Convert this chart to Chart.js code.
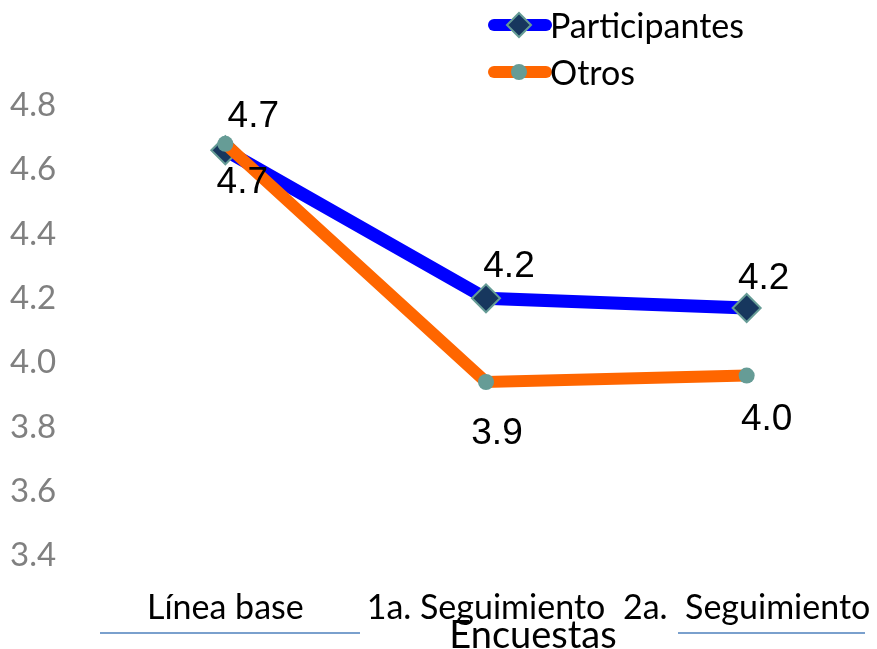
<!DOCTYPE html>
<html>
<head>
<meta charset="utf-8">
<script src="https://cdn.jsdelivr.net/npm/chart.js@4/dist/chart.umd.min.js"></script>
<style>
  html,body{margin:0;padding:0;background:#fff;overflow:hidden;}
  #wrap{position:relative;width:877px;height:649px;}
</style>
</head>
<body>
<div id="wrap"><canvas id="chart"></canvas></div>
<script>
// survey rounds and mean scores
const rounds = ['Línea base', '1a. Seguimiento', '2a.  Seguimiento'];
const participantes = [4.66, 4.20, 4.17];
const otros = [4.68, 3.94, 3.96];
const yTicks = [3.4, 3.6, 3.8, 4.0, 4.2, 4.4, 4.6, 4.8];
const xTitle = 'Encuestas';

const colors = {
  blue:'#0000FF', orange:'#FF6600', navy:'#17375E', teal:'#669C96', tick:'#808080', rule:'#4F81BD'
};
const FONT = 'Lato, "Open Sans", sans-serif';

// where the value labels sit around each point (dx, dy in px)
const labelOffsets = {
  0: [[17, 33], [23, -32], [17, -29]],
  1: [[28, -27], [11, 52], [20, 44]]
};

// value labels next to the points
const valueLabels = {
  id:'valueLabels',
  afterDatasetsDraw(chart){
    const ctx = chart.ctx;
    ctx.save();
    ctx.font = '37px "Liberation Sans", Arial, sans-serif';
    ctx.fillStyle = '#000';
    ctx.textAlign = 'center';
    ctx.textBaseline = 'middle';
    chart.data.datasets.forEach((ds, i) => {
      const meta = chart.getDatasetMeta(i);
      meta.data.forEach((pt, j) => {
        const off = labelOffsets[i][j];
        ctx.fillText(ds.data[j].toFixed(1), pt.x + off[0], pt.y + off[1]);
      });
    });
    ctx.restore();
  }
};

// legend drawn as line + marker, stacked top right
const lineLegend = {
  id:'lineLegend',
  afterDraw(chart){
    const ctx = chart.ctx;
    ctx.save();
    chart.data.datasets.forEach((ds, i) => {
      const y = 25 + i * 47;
      ctx.lineCap = 'round';
      ctx.strokeStyle = ds.borderColor;
      ctx.lineWidth = 12;
      ctx.beginPath(); ctx.moveTo(494, y); ctx.lineTo(546, y); ctx.stroke();
      ctx.fillStyle = ds.pointBackgroundColor;
      ctx.strokeStyle = ds.pointBorderColor;
      ctx.lineWidth = 2;
      if (ds.pointStyle === 'rectRot') {
        ctx.beginPath();
        ctx.moveTo(519, y - 12); ctx.lineTo(531, y); ctx.lineTo(519, y + 12); ctx.lineTo(507, y);
        ctx.closePath(); ctx.fill(); ctx.stroke();
      } else {
        ctx.beginPath(); ctx.arc(519, y, 8, 0, Math.PI * 2); ctx.fill();
      }
      ctx.fillStyle = '#000';
      ctx.font = '34px ' + FONT;
      ctx.textBaseline = 'middle';
      ctx.textAlign = 'left';
      ctx.fillText(ds.label, 550, y + 2);
    });
    ctx.restore();
  }
};

// axis title with thin rules either side
const axisTitle = {
  id:'axisTitle',
  afterDraw(chart){
    const ctx = chart.ctx;
    ctx.save();
    ctx.strokeStyle = colors.rule;
    ctx.lineWidth = 1.5;
    ctx.beginPath();
    ctx.moveTo(100, 633); ctx.lineTo(360, 633);
    ctx.moveTo(678, 633); ctx.lineTo(865, 633);
    ctx.stroke();
    ctx.fillStyle = '#000';
    ctx.font = '38px ' + FONT;
    ctx.textAlign = 'center';
    ctx.textBaseline = 'middle';
    ctx.fillText(xTitle, 533, 636);
    ctx.restore();
  }
};

new Chart(document.getElementById('chart'), {
  type:'line',
  data:{
    labels: rounds,
    datasets:[
      {
        label:'Participantes', data: participantes, order:1,
        borderColor: colors.blue, borderWidth: 13,
        pointStyle:'rectRot', pointRadius: 14, pointHoverRadius: 14,
        pointBackgroundColor: colors.navy, pointBorderColor: colors.teal, pointBorderWidth: 2
      },
      {
        label:'Otros', data: otros, order:0,
        borderColor: colors.orange, borderWidth: 12,
        pointStyle:'circle', pointRadius: 8, pointHoverRadius: 8,
        pointBackgroundColor: colors.teal, pointBorderColor: colors.teal, pointBorderWidth: 0
      }
    ]
  },
  options:{
    responsive:true, maintainAspectRatio:false, animation:false,
    layout:{ autoPadding:false, padding:{ top:73, right:0, left:10, bottom:0 } },
    plugins:{ legend:{ display:false }, tooltip:{ enabled:false } },
    scales:{
      x:{
        offset:true,
        grid:{ display:false, drawTicks:false },
        border:{ display:false },
        ticks:{ color:'#000', font:{ family: FONT, size: 34 }, padding: 0, maxRotation: 0, autoSkip:false },
        afterFit(scale){ scale.height = 61; scale.paddingLeft = 0; scale.paddingRight = 0; }
      },
      y:{
        min: 3.3, max: 4.9,
        grid:{ display:false, drawTicks:false },
        border:{ display:false },
        afterBuildTicks(axis){ axis.ticks = yTicks.map(v => ({ value: v })); },
        ticks:{
          color: colors.tick, font:{ family: FONT, size: 33 }, crossAlign:'far', padding: 8,
          callback: v => v.toFixed(1)
        },
        afterFit(scale){ scale.width = 85; }
      }
    }
  },
  plugins:[valueLabels, lineLegend, axisTitle]
});
</script>
</body>
</html>
